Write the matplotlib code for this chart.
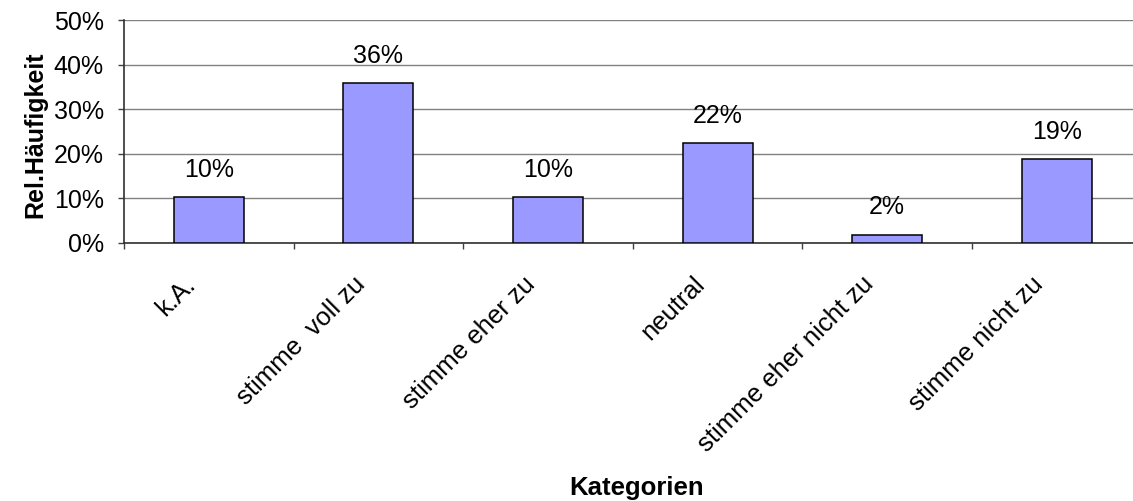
import matplotlib
matplotlib.use("Agg")
import matplotlib.pyplot as plt
import matplotlib.transforms as mtransforms
import numpy as np

# Kategorien und relative Häufigkeiten
kategorien = ['k.A.', 'stimme  voll zu', 'stimme eher zu', 'neutral',
              'stimme eher nicht zu', 'stimme nicht zu']
haeufigkeit = [0.104, 0.359, 0.104, 0.224, 0.019, 0.189]
y_ticks = [0.0, 0.1, 0.2, 0.3, 0.4, 0.5]

plt.rcParams['font.family'] = ['Liberation Sans', 'DejaVu Sans']

fig = plt.figure(figsize=(11.33, 5.01), dpi=100)
ax = fig.add_axes([124 / 1133, 1 - 243 / 501, 1017.6 / 1133, 222.5 / 501])

x = np.arange(len(kategorien))
bars = ax.bar(x, haeufigkeit, width=0.413, color='#9999FF',
              edgecolor='black', linewidth=1.1, zorder=3)

# Datenbeschriftungen
for xi, v in zip(x, haeufigkeit):
    ax.annotate('{:.0f}%'.format(v * 100), (xi, v), xytext=(0, 14.5),
                textcoords='offset points', ha='center', va='baseline',
                fontsize=18, color='black')

ax.set_xlim(-0.5, len(kategorien) - 0.5)
ax.set_ylim(0, 0.5)
ax.set_yticks(y_ticks)
ax.set_yticklabels(['{:.0f}%'.format(t * 100) for t in y_ticks], fontsize=18)
ax.yaxis.grid(True, color='#808080', linewidth=1.0, zorder=0)
ax.set_axisbelow(True)

ax.set_xticks(x)
ax.set_xticklabels(kategorien, fontsize=18.5, rotation=45, ha='right',
                   va='baseline', rotation_mode='anchor')
ax.set_xticks(np.arange(len(kategorien) + 1) - 0.5, minor=True)
ax.tick_params(axis='x', which='major', length=0, pad=30.5)
ax.tick_params(axis='x', which='minor', length=4.5, width=1, color='#404040',
               direction='out')
ax.tick_params(axis='y', length=4.5, width=1, color='#404040', pad=10)

offset = mtransforms.ScaledTranslation(-0.12, 0, fig.dpi_scale_trans)
for lab in ax.get_xticklabels():
    lab.set_transform(lab.get_transform() + offset)

for side in ['top', 'right']:
    ax.spines[side].set_visible(False)
for side in ['left', 'bottom']:
    ax.spines[side].set_color('#303030')
    ax.spines[side].set_linewidth(1.2)

fig.text(35 / 1133, 1 - 135 / 501, 'Rel.Häufigkeit', fontsize=18,
         fontweight='bold', rotation=90, ha='center', va='center')
fig.text(637 / 1133, 1 - 495 / 501, 'Kategorien', fontsize=18.5,
         fontweight='bold', ha='center', va='baseline')

fig.savefig('out.png', dpi=100)
